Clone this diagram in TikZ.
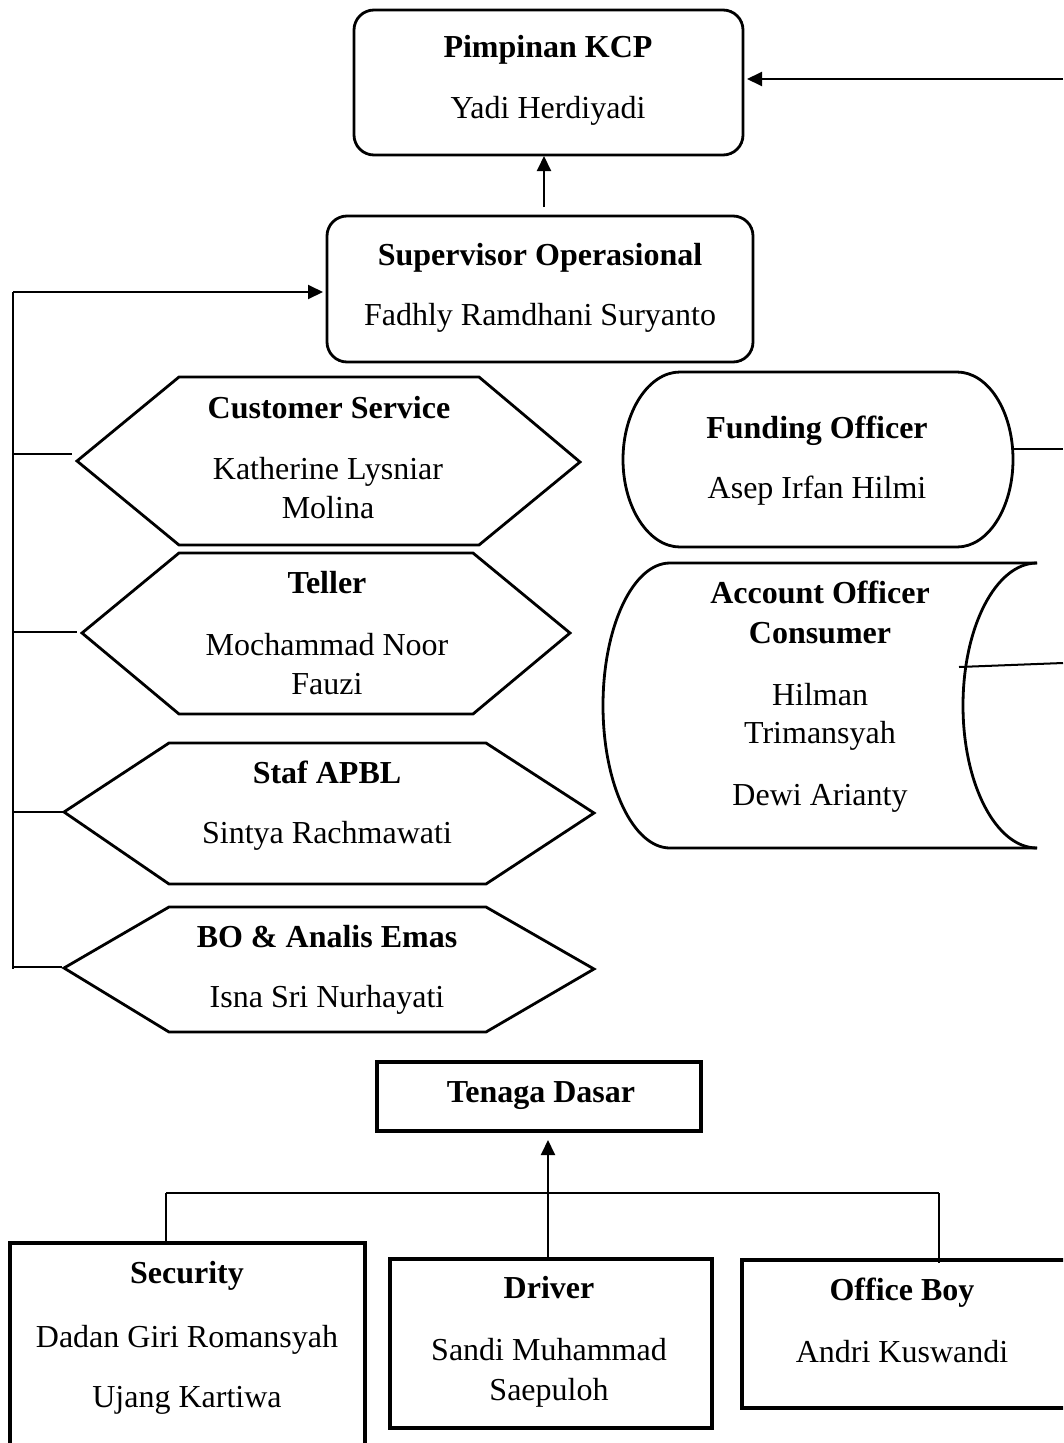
\documentclass[tikz,border=0pt]{standalone}
\usepackage{fontspec}
\setmainfont{Liberation Serif}
\usetikzlibrary{arrows.meta}
\begin{document}
\begin{tikzpicture}[x=1pt,y=-1pt,
  shp/.style={line width=2.8pt, line join=miter},
  con/.style={line width=2pt},
  arr/.style={con,-{Triangle[length=15pt,width=14pt]}},
  txt/.style={font=\fontsize{32}{38}\selectfont, anchor=base, inner sep=0pt},
  ttl/.style={font=\fontsize{32}{38}\selectfont\bfseries, anchor=base, inner sep=0pt},
  box/.style={draw, shp, inner sep=0pt, outer sep=0pt},
  sqbox/.style={draw, line width=3.2pt, inner sep=0pt, outer sep=0pt},
]
\useasboundingbox (0,0) rectangle (1063,1443);
\clip (0,0) rectangle (1063,1443);

% ---------- top boxes ----------
\node[box, rounded corners=20pt, minimum width=389pt, minimum height=145pt] (pim) at (548.5,82.5) {};
\node[ttl] (pimT) at (548,57) {Pimpinan KCP};
\node[txt] (pimN) at (548,118) {Yadi Herdiyadi};

\node[box, rounded corners=20pt, minimum width=426pt, minimum height=146pt] (sup) at (540,289) {};
\node[ttl] (supT) at (540,265) {Supervisor Operasional};
\node[txt] (supN) at (540,325) {Fadhly Ramdhani Suryanto};

% ---------- hexagons ----------
\draw[shp] (77,461) coordinate (csW) -- (179,377) -- (479,377) -- (580,462) -- (479,545) -- (179,545) -- cycle;
\node[ttl] (csT) at (329,418) {Customer Service};
\node[txt] (csN1) at (328,479) {Katherine Lysniar};
\node[txt] (csN2) at (328,518) {Molina};

\draw[shp] (82,633) coordinate (tlW) -- (179,553) -- (473,553) -- (570,633) -- (473,714) -- (179,714) -- cycle;
\node[ttl] (tlT) at (327,593) {Teller};
\node[txt] (tlN1) at (327,655) {Mochammad Noor};
\node[txt] (tlN2) at (327,694) {Fauzi};

\draw[shp] (64,812) coordinate (apW) -- (169,743) -- (486,743) -- (594,813) -- (486,884) -- (169,884) -- cycle;
\node[ttl] (apT) at (327,783) {Staf APBL};
\node[txt] (apN) at (327,843) {Sintya Rachmawati};

\draw[shp] (64,968) coordinate (boW) -- (169,907) -- (486,907) -- (594,969) -- (486,1032) -- (169,1032) -- cycle;
\node[ttl] (boT) at (327,947) {BO \& Analis Emas};
\node[txt] (boN) at (327,1007) {Isna Sri Nurhayati};

% ---------- funding officer (stadium) ----------
\draw[shp] (680,372) -- (957,372) .. controls (988,372) and (1013,411) .. (1013,459.5) coordinate (funE)
  .. controls (1013,508) and (988,547) .. (957,547) -- (680,547)
  .. controls (649,547) and (623,508) .. (623,459.5) .. controls (623,411) and (649,372) .. (680,372) -- cycle;
\node[ttl] (funT) at (817,438) {Funding Officer};
\node[txt] (funN) at (817,498) {Asep Irfan Hilmi};

% ---------- account officer (cylinder) ----------
\draw[shp] (1037,563) -- (670,563) .. controls (633,563) and (603,626.8) .. (603,705.5)
  .. controls (603,784.2) and (633,848) .. (670,848) -- (1037,848);
\draw[shp] (1037,563) .. controls (996,563) and (963,626.8) .. (963,705.5)
  .. controls (963,784.2) and (996,848) .. (1037,848);
\node[ttl] (aoT1) at (820,603) {Account Officer};
\node[ttl] (aoT2) at (820,643) {Consumer};
\node[txt] (aoN1) at (820,705) {Hilman};
\node[txt] (aoN2) at (820,743) {Trimansyah};
\node[txt] (aoN3) at (820,805) {Dewi Arianty};

% ---------- bottom boxes ----------
\node[sqbox, minimum width=324pt, minimum height=69pt] (ten) at (539,1096.5) {};
\node[ttl] (tenT) at (541,1102) {Tenaga Dasar};

\node[sqbox, minimum width=355pt, minimum height=240pt] (sec) at (187.5,1363) {};
\node[ttl] (secT) at (187,1283) {Security};
\node[txt] (secN1) at (187,1347) {Dadan Giri Romansyah};
\node[txt] (secN2) at (187,1407) {Ujang Kartiwa};

\node[sqbox, minimum width=322pt, minimum height=169pt] (drv) at (551,1343.5) {};
\node[ttl] (drvT) at (549,1298) {Driver};
\node[txt] (drvN1) at (549,1360) {Sandi Muhammad};
\node[txt] (drvN2) at (549,1400) {Saepuloh};

\node[sqbox, minimum width=340pt, minimum height=148pt] (ob) at (912,1334) {};
\node[ttl] (obT) at (902,1300) {Office Boy};
\node[txt] (obN) at (902,1362) {Andri Kuswandi};

% ---------- connectors: top ----------
\coordinate (supUp) at (544,207);
\coordinate (pimDn) at (544,156);
\draw[arr] (supUp) -- (pimDn);

\coordinate (rEdgeA) at (1063,79);
\coordinate (pimIn) at (747,79);
\draw[arr] (rEdgeA) -- (pimIn);

\coordinate (rEdgeB) at (1063,449);
\draw[con] (funE |- rEdgeB) -- (rEdgeB);

\coordinate (aoIn) at (959,667);
\coordinate (rEdgeC) at (1063,663);
\draw[con] (aoIn) -- (rEdgeC);

% ---------- connectors: left bus ----------
\coordinate (busTop) at (13,292);
\coordinate (busBot) at (13,969);
\coordinate (supIn) at (323,292);
\draw[con] (busTop) -- (busBot);
\draw[arr] (busTop) -- (supIn);
\coordinate (csL) at (72,454);
\coordinate (tlL) at (77,632);
\coordinate (apL) at (64,812);
\coordinate (boL) at (62,967);
\draw[con] (busTop |- csL) -- (csL);
\draw[con] (busTop |- tlL) -- (tlL);
\draw[con] (busTop |- apL) -- (apL);
\draw[con] (busTop |- boL) -- (boL);

% ---------- connectors: bottom ----------
\coordinate (hbL) at (166,1193);
\coordinate (hbR) at (939,1193);
\draw[con] (hbL) -- (hbR);
\draw[con] (hbL) -- (sec.north -| hbL);
\draw[con] (hbR) -- ([yshift=-3pt]ob.north -| hbR);
\coordinate (drvUp) at (548,1257);
\coordinate (tenDn) at (548,1140);
\draw[arr] (drvUp) -- (tenDn);

\end{tikzpicture}
\end{document}
